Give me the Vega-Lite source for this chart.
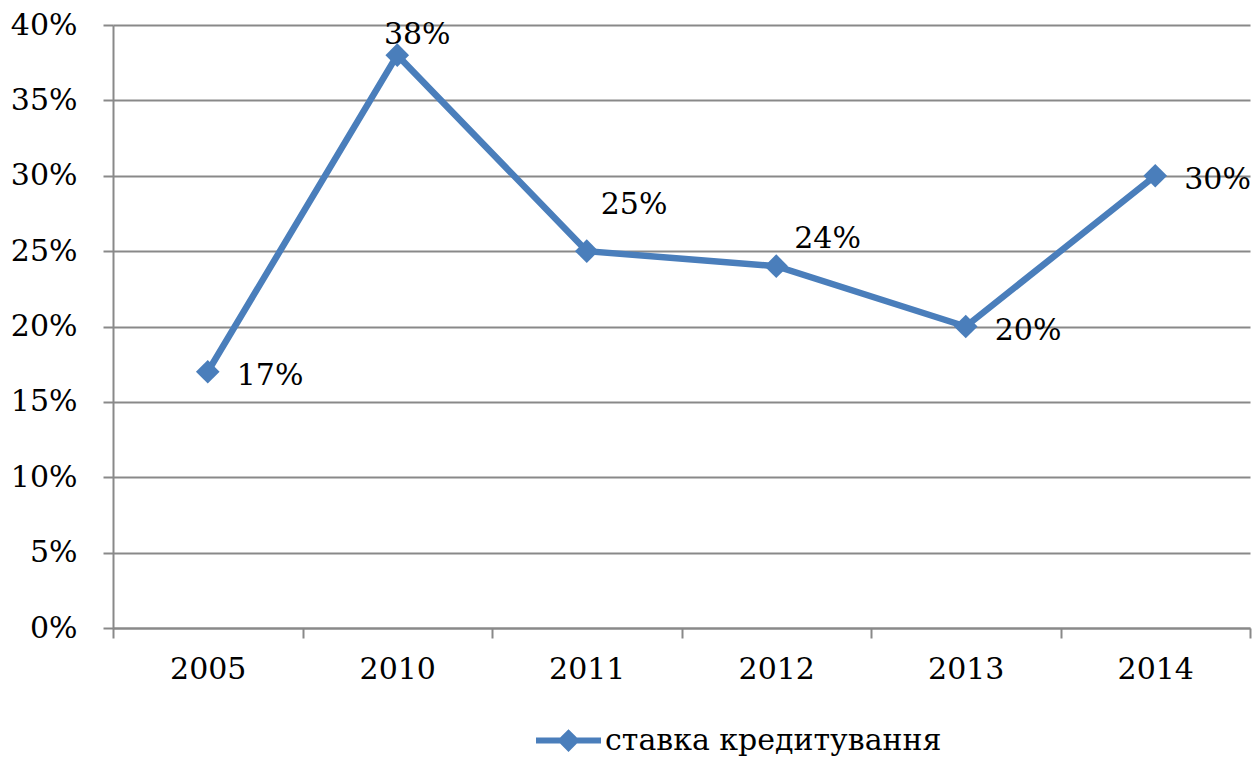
{
  "$schema": "https://vega.github.io/schema/vega-lite/v6.json",
  "autosize": {"type": "none"},
  "padding": {"left": 113, "top": 25, "right": 6, "bottom": 130},
  "width": 1137,
  "height": 603,
  "background": "white",
  "config": {
    "view": {"stroke": null},
    "font": "DejaVu Serif",
    "text": {"font": "DejaVu Serif", "fontSize": 30, "color": "black"}
  },
  "data": {
    "values": [
      {"year": "2005", "rate": 0.17, "series": "ставка кредитування"},
      {"year": "2010", "rate": 0.38, "series": "ставка кредитування"},
      {"year": "2011", "rate": 0.25, "series": "ставка кредитування"},
      {"year": "2012", "rate": 0.24, "series": "ставка кредитування"},
      {"year": "2013", "rate": 0.20, "series": "ставка кредитування"},
      {"year": "2014", "rate": 0.30, "series": "ставка кредитування"}
    ]
  },
  "encoding": {
    "x": {
      "field": "year", "type": "nominal", "sort": null,
      "scale": {"paddingInner": 0, "paddingOuter": 0},
      "axis": {
        "title": null, "labelAngle": 0, "tickBand": "extent",
        "labelFont": "DejaVu Serif", "labelFontSize": 30, "labelColor": "black",
        "labelPadding": 16, "tickSize": 10, "tickColor": "#898989", "tickWidth": 2,
        "domainColor": "#898989", "domainWidth": 2, "grid": false
      }
    },
    "y": {
      "field": "rate", "type": "quantitative",
      "scale": {"domain": [0, 0.4], "nice": false},
      "axis": {
        "title": null, "values": [0, 0.05, 0.1, 0.15, 0.2, 0.25, 0.3, 0.35, 0.4],
        "format": ".0%", "labelFont": "DejaVu Serif", "labelFontSize": 30,
        "labelColor": "black", "labelPadding": 26, "tickSize": 10,
        "tickColor": "#898989", "tickWidth": 2, "domainColor": "#898989",
        "domainWidth": 2, "grid": true, "gridColor": "#898989", "gridWidth": 2
      }
    }
  },
  "layer": [
    {
      "mark": {"type": "line", "strokeWidth": 6.5, "color": "#4a7ebb"},
      "encoding": {
        "color": {
          "field": "series", "type": "nominal",
          "scale": {"range": ["#4a7ebb"]},
          "legend": {
            "title": null, "orient": "none", "legendX": 423, "legendY": 683,
            "symbolType": "M-1,-0.09H1V0.09H-1Z M0,-0.35L0.35,0L0,0.35L-0.35,0Z",
            "symbolSize": 4225, "symbolFillColor": "#4a7ebb",
            "symbolStrokeWidth": 0, "symbolStrokeColor": "#4a7ebb",
            "labelFont": "DejaVu Serif", "labelFontSize": 30,
            "labelColor": "black", "labelOffset": 4, "labelLimit": 0
          }
        }
      }
    },
    {
      "mark": {"type": "point", "shape": "diamond", "filled": true, "size": 560, "color": "#4a7ebb", "opacity": 1}
    },
    {
      "transform": [{"filter": "datum.year == '2005' || datum.year == '2013' || datum.year == '2014'"}],
      "mark": {"type": "text", "align": "left", "baseline": "middle", "dx": 29, "dy": 4},
      "encoding": {"text": {"field": "rate", "type": "quantitative", "format": ".0%"}}
    },
    {
      "transform": [{"filter": "datum.year == '2010'"}],
      "mark": {"type": "text", "align": "center", "baseline": "middle", "dx": 20, "dy": -20},
      "encoding": {"text": {"field": "rate", "type": "quantitative", "format": ".0%"}}
    },
    {
      "transform": [{"filter": "datum.year == '2011'"}],
      "mark": {"type": "text", "align": "left", "baseline": "middle", "dx": 14, "dy": -46},
      "encoding": {"text": {"field": "rate", "type": "quantitative", "format": ".0%"}}
    },
    {
      "transform": [{"filter": "datum.year == '2012'"}],
      "mark": {"type": "text", "align": "left", "baseline": "middle", "dx": 18, "dy": -27},
      "encoding": {"text": {"field": "rate", "type": "quantitative", "format": ".0%"}}
    }
  ]
}
